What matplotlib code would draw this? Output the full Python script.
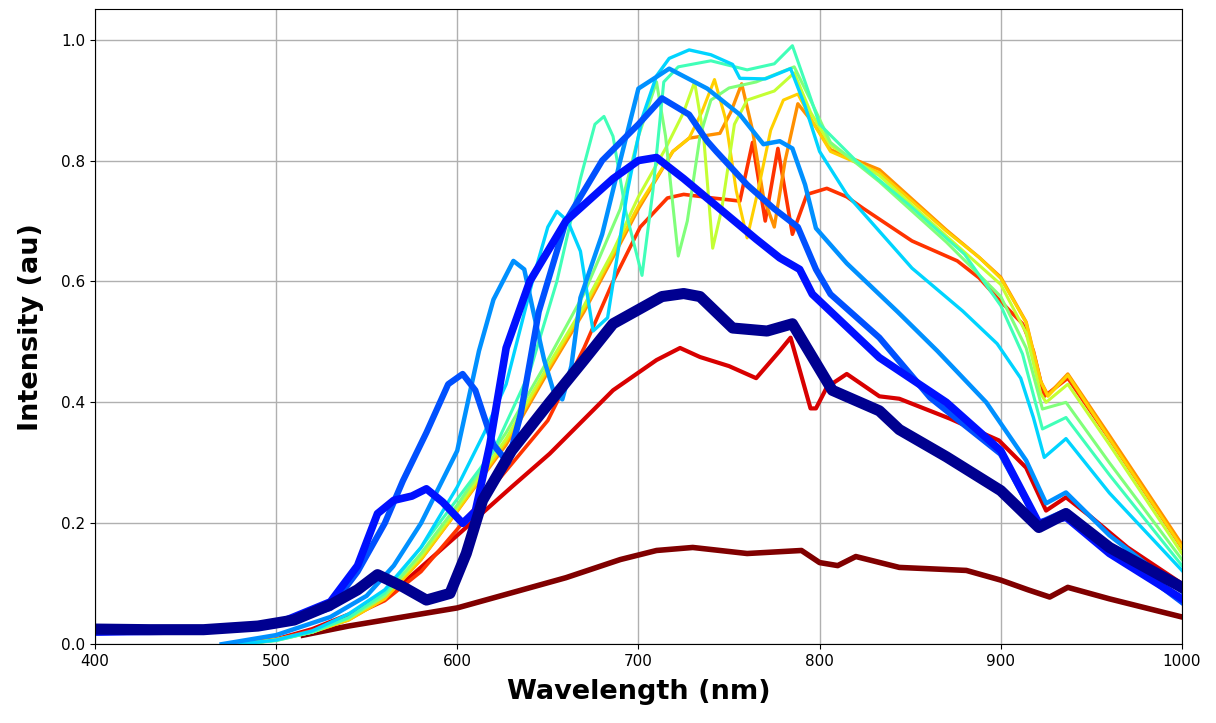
import matplotlib.pyplot as plt

# spectra (wavelength in nm, intensity in au)
wl_darkred = [515, 540, 570, 600, 630, 660, 690, 710, 730, 760, 790, 800, 810, 820, 844, 881, 900, 915, 927, 937, 960, 980, 1000]
int_darkred = [0.015, 0.03, 0.045, 0.06, 0.085, 0.11, 0.14, 0.155, 0.16, 0.15, 0.155, 0.135, 0.13, 0.145, 0.127, 0.122, 0.106, 0.09, 0.078, 0.094, 0.075, 0.06, 0.045]

wl_red = [480, 500, 520, 545, 563, 572, 603, 630, 651, 686, 710, 723, 734, 750, 765, 778, 784, 795, 798, 804, 815, 833, 844, 872, 899, 914, 925, 936, 950, 970, 1000]
int_red = [0.0, 0.008, 0.025, 0.055, 0.089, 0.106, 0.188, 0.26, 0.315, 0.42, 0.47, 0.49, 0.475, 0.46, 0.44, 0.485, 0.507, 0.39, 0.39, 0.425, 0.447, 0.41, 0.406, 0.373, 0.337, 0.292, 0.221, 0.243, 0.21, 0.16, 0.10]

wl_orangered = [480, 500, 530, 560, 580, 600, 625, 650, 670, 686, 701, 716, 725, 741, 756, 763, 770, 777, 785, 793, 804, 815, 824, 851, 876, 888, 898, 912, 918, 924, 937, 960, 1000]
int_orangered = [0.0, 0.008, 0.03, 0.072, 0.12, 0.19, 0.28, 0.37, 0.49, 0.60, 0.69, 0.738, 0.744, 0.738, 0.733, 0.83, 0.70, 0.82, 0.678, 0.744, 0.754, 0.74, 0.721, 0.667, 0.634, 0.606, 0.573, 0.53, 0.485, 0.41, 0.44, 0.34, 0.16]

wl_orange = [480, 500, 520, 540, 560, 580, 600, 627, 650, 670, 686, 700, 719, 728, 745, 751, 757, 763, 769, 775, 781, 788, 797, 806, 833, 870, 888, 900, 914, 922, 926, 937, 960, 1000]
int_orange = [0.0, 0.008, 0.02, 0.04, 0.075, 0.14, 0.22, 0.33, 0.45, 0.55, 0.64, 0.72, 0.815, 0.837, 0.845, 0.88, 0.927, 0.85, 0.74, 0.69, 0.80, 0.894, 0.86, 0.818, 0.785, 0.685, 0.64, 0.607, 0.533, 0.435, 0.412, 0.447, 0.345, 0.165]

wl_yellow = [480, 500, 520, 540, 560, 580, 600, 627, 650, 670, 686, 700, 719, 728, 735, 742, 748, 754, 760, 766, 773, 780, 788, 797, 806, 833, 870, 888, 900, 914, 922, 926, 937, 960, 1000]
int_yellow = [0.0, 0.008, 0.02, 0.04, 0.075, 0.14, 0.22, 0.335, 0.455, 0.555, 0.645, 0.725, 0.815, 0.837, 0.88, 0.934, 0.87, 0.75, 0.672, 0.75, 0.85, 0.90, 0.91, 0.86, 0.815, 0.78, 0.683, 0.64, 0.605, 0.532, 0.435, 0.41, 0.445, 0.34, 0.16]

wl_ygreen = [480, 500, 520, 540, 560, 580, 600, 627, 650, 670, 686, 700, 715, 725, 731, 736, 741, 746, 753, 760, 775, 786, 795, 806, 833, 870, 900, 914, 922, 925, 937, 960, 1000]
int_ygreen = [0.0, 0.007, 0.02, 0.042, 0.08, 0.145, 0.225, 0.34, 0.46, 0.56, 0.65, 0.74, 0.82, 0.88, 0.93, 0.84, 0.655, 0.72, 0.86, 0.90, 0.915, 0.945, 0.88, 0.825, 0.775, 0.675, 0.595, 0.515, 0.415, 0.40, 0.43, 0.33, 0.15]

wl_lgreen = [480, 500, 520, 540, 560, 580, 600, 627, 650, 670, 690, 700, 710, 715, 722, 727, 734, 740, 750, 765, 786, 795, 806, 833, 870, 900, 914, 923, 936, 960, 1000]
int_lgreen = [0.0, 0.006, 0.02, 0.043, 0.08, 0.15, 0.23, 0.35, 0.47, 0.58, 0.72, 0.84, 0.93, 0.84, 0.642, 0.70, 0.84, 0.90, 0.92, 0.93, 0.955, 0.90, 0.83, 0.765, 0.665, 0.575, 0.49, 0.389, 0.40, 0.30, 0.14]

wl_aqua = [480, 500, 520, 540, 560, 580, 600, 620, 640, 655, 668, 676, 681, 686, 693, 702, 708, 714, 722, 740, 760, 775, 785, 792, 800, 820, 850, 880, 900, 912, 923, 936, 960, 1000]
int_aqua = [0.0, 0.006, 0.02, 0.044, 0.085, 0.16, 0.24, 0.32, 0.45, 0.60, 0.77, 0.86, 0.873, 0.84, 0.716, 0.61, 0.75, 0.93, 0.955, 0.965, 0.95, 0.96, 0.99, 0.93, 0.86, 0.80, 0.725, 0.645, 0.56, 0.48, 0.356, 0.375, 0.28, 0.13]

wl_cyan = [480, 500, 520, 540, 560, 580, 600, 615, 627, 642, 650, 655, 661, 668, 675, 683, 694, 702, 710, 717, 728, 740, 752, 756, 770, 784, 792, 800, 815, 851, 879, 898, 911, 918, 924, 936, 960, 1000]
int_cyan = [0.0, 0.007, 0.022, 0.05, 0.09, 0.16, 0.26, 0.35, 0.43, 0.606, 0.69, 0.716, 0.70, 0.65, 0.518, 0.54, 0.75, 0.87, 0.94, 0.969, 0.983, 0.975, 0.959, 0.936, 0.935, 0.952, 0.89, 0.815, 0.744, 0.622, 0.551, 0.497, 0.44, 0.375, 0.309, 0.34, 0.25, 0.122]

wl_lblue = [470, 500, 530, 550, 565, 580, 600, 612, 620, 631, 637, 642, 648, 653, 658, 663, 668, 680, 690, 700, 717, 738, 756, 769, 778, 785, 792, 798, 815, 843, 865, 892, 914, 925, 936, 960, 1000]
int_lblue = [0.0, 0.015, 0.045, 0.08, 0.13, 0.2, 0.32, 0.485, 0.57, 0.634, 0.62, 0.55, 0.47, 0.42, 0.405, 0.46, 0.573, 0.678, 0.80, 0.919, 0.952, 0.919, 0.876, 0.827, 0.832, 0.82, 0.76, 0.688, 0.63, 0.55, 0.485, 0.40, 0.304, 0.233, 0.251, 0.18, 0.087]

wl_blue = [400, 450, 500, 530, 545, 560, 570, 583, 595, 603, 610, 620, 628, 635, 645, 660, 680, 700, 713, 728, 738, 743, 760, 775, 788, 798, 806, 833, 861, 900, 921, 936, 960, 1000]
int_blue = [0.02, 0.022, 0.032, 0.06, 0.12, 0.20, 0.27, 0.35, 0.43, 0.447, 0.42, 0.33, 0.30, 0.38, 0.55, 0.70, 0.80, 0.86, 0.903, 0.876, 0.832, 0.815, 0.76, 0.72, 0.69, 0.62, 0.579, 0.507, 0.408, 0.315, 0.20, 0.22, 0.16, 0.07]

wl_blue2 = [400, 450, 500, 530, 545, 556, 565, 575, 583, 592, 603, 610, 618, 627, 640, 660, 686, 700, 710, 725, 745, 765, 778, 789, 796, 833, 870, 900, 921, 936, 960, 1000]
int_blue2 = [0.02, 0.022, 0.033, 0.07, 0.13, 0.216, 0.238, 0.245, 0.257, 0.235, 0.20, 0.22, 0.33, 0.49, 0.60, 0.70, 0.77, 0.80, 0.805, 0.77, 0.72, 0.67, 0.639, 0.62, 0.579, 0.474, 0.40, 0.32, 0.20, 0.21, 0.15, 0.075]

wl_navy = [400, 430, 460, 490, 510, 530, 545, 556, 570, 583, 596, 605, 614, 630, 651, 670, 686, 713, 725, 734, 752, 771, 785, 795, 807, 833, 844, 870, 900, 921, 936, 960, 1000]
int_navy = [0.025, 0.024, 0.024, 0.03, 0.04, 0.065, 0.09, 0.115, 0.095, 0.073, 0.084, 0.15, 0.238, 0.32, 0.40, 0.47, 0.53, 0.575, 0.58, 0.575, 0.523, 0.518, 0.53, 0.48, 0.42, 0.386, 0.355, 0.31, 0.254, 0.193, 0.216, 0.16, 0.094]

series = [
    (wl_darkred, int_darkred, '#800000', 4.0),
    (wl_red, int_red, '#d80000', 3.0),
    (wl_orangered, int_orangered, '#ff3300', 2.6),
    (wl_orange, int_orange, '#ff9000', 2.4),
    (wl_yellow, int_yellow, '#ffd000', 2.2),
    (wl_ygreen, int_ygreen, '#c4ff33', 2.2),
    (wl_lgreen, int_lgreen, '#80ff7a', 2.2),
    (wl_aqua, int_aqua, '#40ffb8', 2.2),
    (wl_cyan, int_cyan, '#00d4ff', 2.4),
    (wl_lblue, int_lblue, '#0090ff', 3.2),
    (wl_blue, int_blue, '#0050ff', 4.5),
    (wl_blue2, int_blue2, '#0010ff', 5.5),
    (wl_navy, int_navy, '#000090', 8.0),
]

fig = plt.figure(figsize=(12.16, 7.23), dpi=100)
ax = fig.add_axes([0.078, 0.109, 0.894, 0.878])

for wl, inten, col, lw in series:
    ax.plot(wl, inten, color=col, linewidth=lw, solid_joinstyle='round')

ax.set_xlim(400, 1000)
ax.set_ylim(0, 1.05)
ax.set_xticks([400, 500, 600, 700, 800, 900, 1000])
ax.set_yticks([0.0, 0.2, 0.4, 0.6, 0.8, 1.0])
ax.tick_params(labelsize=11)
ax.grid(True, color='#b0b0b0', linewidth=1.0)
ax.set_axisbelow(True)
ax.set_xlabel('Wavelength (nm)', fontsize=19.5, fontweight='bold', labelpad=7)
ax.set_ylabel('Intensity (au)', fontsize=19.5, fontweight='bold', labelpad=12)

plt.savefig('out.png', dpi=100)
plt.close()
